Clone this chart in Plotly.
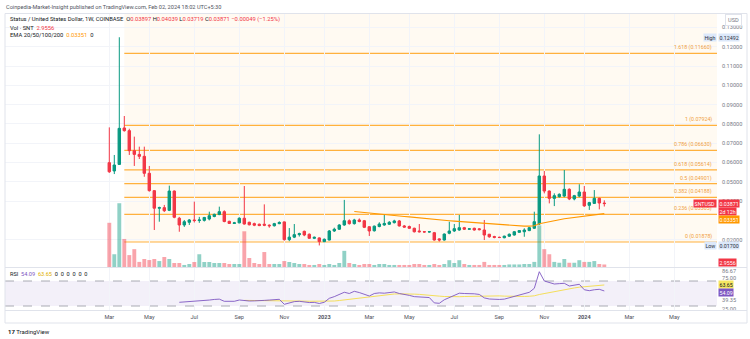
import plotly.graph_objects as go
import pandas as pd

# ---------------- data ----------------
dates = pd.date_range("2022-03-07", periods=100, freq="7D")

opens = [0.0599, 0.0556, 0.0590, 0.0779, 0.0765, 0.0661, 0.0642, 0.0632, 0.0544, 0.0454,
         0.0363, 0.0366, 0.0352, 0.0452, 0.0311, 0.0276, 0.0290, 0.0302, 0.0299, 0.0300,
         0.0307, 0.0320, 0.0330, 0.0345, 0.0295, 0.0284, 0.0287, 0.0311, 0.0290, 0.0283,
         0.0280, 0.0280, 0.0275, 0.0272, 0.0283, 0.0292, 0.0200, 0.0213, 0.0226, 0.0243,
         0.0228, 0.0207, 0.0209, 0.0190, 0.0198, 0.0245, 0.0254, 0.0276, 0.0298, 0.0283,
         0.0302, 0.0298, 0.0267, 0.0246, 0.0268, 0.0276, 0.0280, 0.0288, 0.0297, 0.0271,
         0.0268, 0.0259, 0.0245, 0.0241, 0.0240, 0.0236, 0.0204, 0.0198, 0.0233, 0.0245,
         0.0250, 0.0262, 0.0254, 0.0259, 0.0256, 0.0250, 0.0228, 0.0216, 0.0212, 0.0210,
         0.0218, 0.0224, 0.0238, 0.0241, 0.0247, 0.0259, 0.0281, 0.0530, 0.0452, 0.0414,
         0.0423, 0.0426, 0.0461, 0.0411, 0.0426, 0.0447, 0.0378, 0.0388, 0.0414, 0.03897]
highs = [0.0782, 0.0639, 0.12492, 0.0841, 0.0775, 0.0734, 0.0682, 0.0682, 0.0582, 0.0457,
         0.0371, 0.0380, 0.0480, 0.0455, 0.0318, 0.0302, 0.0307, 0.0397, 0.0318, 0.0318,
         0.0345, 0.0335, 0.0371, 0.0352, 0.0298, 0.0292, 0.0316, 0.0478, 0.0293, 0.0288,
         0.0283, 0.0383, 0.0279, 0.0287, 0.0295, 0.0294, 0.0260, 0.0281, 0.0236, 0.0247,
         0.0232, 0.0216, 0.0212, 0.0206, 0.0250, 0.0262, 0.0280, 0.0406, 0.0305, 0.0308,
         0.0310, 0.0302, 0.0270, 0.0273, 0.0290, 0.0333, 0.0296, 0.0303, 0.0302, 0.0276,
         0.0273, 0.0262, 0.0281, 0.0244, 0.0245, 0.0240, 0.0207, 0.0232, 0.0293, 0.0281,
         0.0328, 0.0266, 0.0260, 0.0262, 0.0260, 0.0302, 0.0230, 0.0220, 0.0216, 0.0221,
         0.0232, 0.0245, 0.0250, 0.0259, 0.0266, 0.0345, 0.0746, 0.0556, 0.0455, 0.0440,
         0.0440, 0.0561, 0.0466, 0.0432, 0.0487, 0.0478, 0.0396, 0.0457, 0.0418, 0.04039]
lows = [0.0546, 0.0540, 0.0587, 0.0760, 0.0639, 0.0582, 0.0618, 0.0526, 0.0449, 0.0250,
        0.0293, 0.0343, 0.0348, 0.0311, 0.0241, 0.0266, 0.0276, 0.0289, 0.0287, 0.0294,
        0.0300, 0.0316, 0.0327, 0.0290, 0.0282, 0.0281, 0.0285, 0.0278, 0.0274, 0.0270,
        0.0270, 0.0270, 0.0262, 0.0268, 0.0280, 0.0195, 0.0192, 0.0208, 0.0216, 0.0218,
        0.0204, 0.0203, 0.0170, 0.0186, 0.0196, 0.0240, 0.0250, 0.0272, 0.0278, 0.0278,
        0.0290, 0.0260, 0.0219, 0.0242, 0.0264, 0.0272, 0.0276, 0.0284, 0.0268, 0.0262,
        0.0255, 0.0237, 0.0237, 0.0236, 0.0236, 0.0195, 0.0190, 0.0195, 0.0228, 0.0240,
        0.0246, 0.0250, 0.0250, 0.0247, 0.0248, 0.0198, 0.0210, 0.0207, 0.0208, 0.0207,
        0.0214, 0.0221, 0.0235, 0.0215, 0.0244, 0.0255, 0.0276, 0.0440, 0.0388, 0.0374,
        0.0418, 0.0420, 0.0405, 0.0404, 0.0420, 0.0370, 0.0354, 0.0385, 0.0357, 0.03719]
closes = [0.0552, 0.0587, 0.0777, 0.0765, 0.0661, 0.0642, 0.0632, 0.0544, 0.0454, 0.0363,
          0.0366, 0.0350, 0.0452, 0.0316, 0.0276, 0.0293, 0.0302, 0.0299, 0.0302, 0.0315,
          0.0324, 0.0331, 0.0345, 0.0294, 0.0284, 0.0287, 0.0311, 0.0281, 0.0277, 0.0275,
          0.0273, 0.0275, 0.0272, 0.0283, 0.0289, 0.0200, 0.0213, 0.0226, 0.0231, 0.0224,
          0.0207, 0.0212, 0.0190, 0.0202, 0.0245, 0.0254, 0.0276, 0.0298, 0.0283, 0.0302,
          0.0294, 0.0264, 0.0245, 0.0270, 0.0281, 0.0284, 0.0290, 0.0297, 0.0271, 0.0265,
          0.0259, 0.0241, 0.0241, 0.0240, 0.0241, 0.0198, 0.0198, 0.0229, 0.0245, 0.0257,
          0.0262, 0.0254, 0.0256, 0.0250, 0.0252, 0.0224, 0.0215, 0.0212, 0.0211, 0.0218,
          0.0228, 0.0241, 0.0247, 0.0250, 0.0262, 0.0293, 0.0530, 0.0452, 0.0414, 0.0428,
          0.0435, 0.0461, 0.0411, 0.0428, 0.0447, 0.0375, 0.0392, 0.0414, 0.0390, 0.03871]
volumes = [52, 15, 75, 33, 14, 21, 6, 9.4, 8.2, 9.4,
           7, 11.8, 9.4, 4.7, 4.7, 2.4, 3.5, 5.9, 15, 5.9,
           5.9, 4.7, 4.7, 4.7, 3.5, 3.5, 3.5, 42, 10.6, 4.7,
           3.5, 17.6, 3.5, 3.5, 3.5, 7, 5.9, 4.7, 3.5, 3.5,
           2.4, 2.4, 3.5, 2.4, 3.5, 2.4, 4.7, 19, 4.7, 3.5,
           2.4, 3.5, 3.5, 2.4, 3.5, 3.5, 2.4, 2.4, 2.4, 2.4,
           2.4, 3.5, 3.5, 2.4, 2.4, 3.5, 2.4, 3.5, 8, 4.7,
           8, 3.5, 2.4, 2.4, 2.4, 6, 2.4, 2.4, 2.4, 2.4,
           3, 3, 3, 3.5, 3.5, 6, 49, 21, 15, 6,
           5, 9.4, 5, 5, 8, 6, 6, 7, 3.5, 2.9556]
ema50 = [0.0346, 0.0343, 0.0341, 0.0338, 0.0336, 0.0333, 0.0331, 0.0328, 0.0326, 0.0323,
         0.0320, 0.0318, 0.0315, 0.0312, 0.0309, 0.0306, 0.0304, 0.0302, 0.0300, 0.0298,
         0.0296, 0.0294, 0.0292, 0.0290, 0.0288, 0.0286, 0.0284, 0.0281, 0.0279, 0.0277,
         0.0275, 0.0273, 0.0272, 0.0271, 0.0270, 0.0270, 0.0272, 0.0282, 0.0288, 0.0293,
         0.0298, 0.0303, 0.0308, 0.0311, 0.0314, 0.0318, 0.0321, 0.0324, 0.0327, 0.0330,
         0.03351]
rsi = [35.9, 36.5, 37.0, 37.0, 37.3, 38.5, 39.5, 40.5, 41.0, 37.5,
       37.0, 37.5, 39.6, 38.5, 38.0, 38.2, 38.0, 39.0, 39.5, 40.5,
       40.7, 32.7, 35.0, 37.0, 37.5, 36.5, 35.5, 35.8, 34.0, 36.0,
       42.3, 45.0, 48.5, 52.0, 50.0, 53.5, 51.5, 48.5, 46.0, 50.0,
       51.0, 50.5, 51.5, 52.5, 50.0, 49.0, 47.0, 45.0, 44.5, 44.0,
       43.5, 35.0, 34.3, 40.0, 43.5, 47.0, 50.5, 50.0, 50.2, 49.5,
       48.5, 43.0, 41.2, 40.5, 40.5, 41.0, 43.0, 45.0, 47.0, 49.0,
       51.9, 58.3, 84.9, 70.0, 67.3, 65.2, 65.8, 66.3, 62.0, 63.5,
       64.7, 56.0, 54.5, 56.0, 56.7, 54.09]
rsi_ma = [39.0, 39.0, 39.0, 38.9, 38.9, 38.9, 38.8, 38.8, 38.5, 38.2,
          38.0, 37.9, 37.8, 37.6, 37.5, 37.3, 37.2, 37.5, 38.0, 38.8,
          39.8, 40.6, 41.6, 42.6, 43.4, 44.2, 45.2, 46.3, 47.3, 48.3,
          49.2, 49.4, 49.6, 49.4, 49.0, 48.6, 48.2, 47.8, 46.8, 45.8,
          45.2, 44.8, 44.7, 44.9, 45.2, 45.5, 45.6, 45.8, 46.1, 46.3,
          46.4, 46.2, 45.8, 45.4, 45.2, 45.2, 45.3, 45.6, 46.3, 48.4,
          50.0, 51.8, 53.6, 55.3, 56.9, 57.9, 58.9, 60.1, 60.9, 61.8,
          62.6, 63.2, 63.65]

fib_ratios = [0, 0.236, 0.382, 0.5, 0.618, 0.786, 1, 1.618]
fib_values = [0.01878, 0.03305, 0.04188, 0.04901, 0.05614, 0.06630, 0.07924, 0.11660]
fib_start = "2022-03-28"

price_ticks = [0.02, 0.04, 0.05, 0.06, 0.07, 0.08, 0.09, 0.10, 0.11, 0.12, 0.13]
rsi_ticks = [25.0, 39.35, 75.0, 86.67]
month_ticks = ["2022-03-07", "2022-05-02", "2022-07-04", "2022-09-05", "2022-11-07",
               "2023-01-02", "2023-03-06", "2023-05-01", "2023-07-03", "2023-09-04",
               "2023-11-06", "2024-01-01", "2024-03-04", "2024-05-06"]
month_text = ["Mar", "May", "Jul", "Sep", "Nov", "<b>2023</b>", "Mar", "May", "Jul", "Sep",
              "Nov", "<b>2024</b>", "Mar", "May"]

last_price = 0.03871
ema_last = 0.03351
vol_last = 2.9556
rsi_last = 54.09
rsi_ma_last = 63.65
high_val = 0.12492
low_val = 0.01700

# ---------------- styling ----------------
GREEN = "#089981"
RED = "#F23645"
ORANGE = "#FF9800"
FIB = "rgba(255,152,0,0.75)"
GRID = "#F2F4F9"
TXT = "#787B86"
FONT = "Roboto"

W, H = 750, 339
L, R, T, B = 5, 33, 14, 29
plot_w = W - L - R
plot_h = H - T - B
first_px = 109.3
px_per_day = 5 / 7
start = pd.Timestamp("2022-03-07")
x0 = start - pd.Timedelta(days=(first_px - L) / px_per_day)
x1 = start + pd.Timedelta(days=(W - R - first_px) / px_per_day)

price_bottom_px = 267
rsi_top_px = 268
price_dom = [(H - B - price_bottom_px) / plot_h, 1]
rsi_dom = [0, (H - B - rsi_top_px) / plot_h]

def py(px):  # pixel y -> paper y
    return (H - B - px) / plot_h

def pxp(px):  # pixel x -> paper x
    return (px - L) / plot_w

vol_colors = ["rgba(8,153,129,0.45)" if c >= o else "rgba(242,54,69,0.45)"
              for o, c in zip(opens, closes)]

fig = go.Figure()
fig.add_trace(go.Bar(x=dates, y=volumes, marker=dict(color=vol_colors, line=dict(width=0)),
                     width=7 * 24 * 3600 * 1000 * 0.78, xaxis="x", yaxis="y2",
                     showlegend=False, hoverinfo="skip"))
fig.add_trace(go.Candlestick(x=dates, open=opens, high=highs, low=lows, close=closes,
                             increasing=dict(line=dict(color=GREEN, width=1), fillcolor=GREEN),
                             decreasing=dict(line=dict(color=RED, width=1), fillcolor=RED),
                             whiskerwidth=0, xaxis="x", yaxis="y", showlegend=False))
fig.add_trace(go.Scatter(x=dates[49:], y=ema50, mode="lines",
                         line=dict(color=ORANGE, width=1.1), xaxis="x", yaxis="y",
                         showlegend=False))
fig.add_trace(go.Scatter(x=dates[27:], y=rsi_ma, mode="lines",
                         line=dict(color="#F5DF5B", width=1), xaxis="x2", yaxis="y3",
                         showlegend=False))
fig.add_trace(go.Scatter(x=dates[14:], y=rsi, mode="lines",
                         line=dict(color="#7E57C2", width=0.9), xaxis="x2", yaxis="y3",
                         showlegend=False))

shapes = []
# fib background and lines
shapes.append(dict(type="rect", xref="x", yref="y", x0=fib_start, x1=x1,
                   y0=fib_values[0], y1=0.13698, fillcolor="rgba(255,152,0,0.05)",
                   line=dict(width=0), layer="below"))
for v in fib_values:
    shapes.append(dict(type="line", xref="x", yref="y", x0=fib_start, x1=x1, y0=v, y1=v,
                       line=dict(color=FIB, width=1.2), layer="below"))
# RSI band
shapes.append(dict(type="rect", xref="paper", yref="y3", x0=0, x1=1, y0=30, y1=70,
                   fillcolor="rgba(126,87,194,0.09)", line=dict(width=0), layer="below"))
for lv in (70, 30):
    shapes.append(dict(type="line", xref="paper", yref="y3", x0=0, x1=1, y0=lv, y1=lv,
                       line=dict(color="#9598A1", width=0.8, dash="dash"), layer="below"))
# pane separators and frame
shapes.append(dict(type="line", xref="paper", yref="paper", x0=pxp(L), x1=pxp(W - 3),
                   y0=py(267.5), y1=py(267.5), line=dict(color="#E0E3EB", width=1)))
shapes.append(dict(type="line", xref="paper", yref="paper", x0=pxp(L), x1=pxp(W - 3),
                   y0=py(310.5), y1=py(310.5), line=dict(color="#E0E3EB", width=1)))
shapes.append(dict(type="rect", xref="paper", yref="paper", x0=pxp(L), x1=pxp(W - 3),
                   y0=py(323), y1=py(13.5), line=dict(color="#E0E3EB", width=1),
                   fillcolor="rgba(0,0,0,0)"))

ann = []
def label(text, x, y, xref, yref, bg, fg, xanchor="left", yshift=0, xshift=0, size=5.3):
    ann.append(dict(text=text, x=x, y=y, xref=xref, yref=yref, showarrow=False,
                    xanchor=xanchor, yanchor="middle", bgcolor=bg,
                    font=dict(size=size, color=fg, family=FONT),
                    borderpad=0.5, yshift=yshift, xshift=xshift))

# fib labels
for r_, v in zip(fib_ratios, fib_values):
    ann.append(dict(text=f"{r_:g} ({v:.5f})", x=1, xref="paper", y=v, yref="y",
                    xanchor="right", yanchor="bottom", xshift=-3, yshift=0, showarrow=False,
                    font=dict(size=5.3, color="#F0A040", family=FONT)))

# right-axis labels
label(f"{last_price:.5f}", 1, last_price, "paper", "y", RED, "white", xshift=1, yshift=0)
label("SNTUSD", 1, last_price, "paper", "y", RED, "white", xanchor="right", yshift=0)
label("2d 12h", 1, last_price, "paper", "y", RED, "white", xshift=1, yshift=-7.5)
label(f"{ema_last:.5f}", 1, ema_last, "paper", "y", ORANGE, "white", xshift=1, yshift=-5.5)
label(f"{high_val:.5f}", 1, high_val, "paper", "y", "#DCE8FA", "#2A2E39", xshift=1)
label("High", 1, high_val, "paper", "y", "#DCE8FA", "#2A2E39", xanchor="right")
label(f"{low_val:.5f}", 1, low_val, "paper", "y", "#DCE8FA", "#2A2E39", xshift=1)
label("Low", 1, low_val, "paper", "y", "#DCE8FA", "#2A2E39", xanchor="right")
label(f"{vol_last:.4f}", 1, vol_last, "paper", "y2", RED, "white", xshift=1, yshift=2)
label(f"{rsi_ma_last:.2f}", 1, rsi_ma_last, "paper", "y3", "#F5E663", "#131722", xshift=1, yshift=0)
label(f"{rsi_last:.2f}", 1, rsi_last, "paper", "y3", "#7E57C2", "white", xshift=1, yshift=-2)
ann.append(dict(text="USD", x=pxp(733), y=py(20), xref="paper", yref="paper", showarrow=False,
                xanchor="center", yanchor="middle", bgcolor="white", bordercolor="#E0E3EB",
                borderwidth=1, borderpad=2, font=dict(size=5.6, color=TXT, family=FONT)))

# header texts
ann.append(dict(text="Coinpedia-Market-Insight published on TradingView.com, Feb 02, 2024 18:02 UTC+5:30",
                x=pxp(4), y=py(7), xref="paper", yref="paper", xanchor="left", yanchor="middle",
                showarrow=False, font=dict(size=5.6, color="#50535E", family=FONT)))
ann.append(dict(text=("<span style='color:#131722'>Status / United States Dollar, 1W, COINBASE</span>"
                      f"  O<span style='color:{RED}'>{opens[-1]:.5f}</span>"
                      f" H<span style='color:{RED}'>{highs[-1]:.5f}</span>"
                      f" L<span style='color:{RED}'>{lows[-1]:.5f}</span>"
                      f" C<span style='color:{RED}'>{closes[-1]:.5f}</span>"
                      f" <span style='color:{RED}'>−0.00049 (−1.25%)</span>"),
                x=pxp(8), y=py(19), xref="paper", yref="paper", xanchor="left", yanchor="middle",
                showarrow=False, font=dict(size=5.8, color="#131722", family=FONT)))
ann.append(dict(text=f"Vol · SNT  <span style='color:{RED}'>{vol_last:.4f}</span>",
                x=pxp(8), y=py(27.5), xref="paper", yref="paper", xanchor="left", yanchor="middle",
                showarrow=False, font=dict(size=5.8, color="#131722", family=FONT)))
ann.append(dict(text=f"EMA 20/50/100/200  <span style='color:{ORANGE}'>{ema_last:.5f}</span>  0",
                x=pxp(8), y=py(35.5), xref="paper", yref="paper", xanchor="left", yanchor="middle",
                showarrow=False, font=dict(size=5.8, color="#131722", family=FONT)))
ann.append(dict(text=(f"RSI  <span style='color:#7E57C2'>{rsi_last:.2f}</span>  "
                      f"<span style='color:#E0B000'>{rsi_ma_last:.2f}</span>  0  0  0  0  0  0"),
                x=pxp(8), y=py(273.5), xref="paper", yref="paper", xanchor="left", yanchor="middle",
                showarrow=False, font=dict(size=5.6, color="#131722", family=FONT)))
ann.append(dict(text="<b>17</b> TradingView", x=pxp(6), y=py(331), xref="paper", yref="paper",
                xanchor="left", yanchor="middle", showarrow=False,
                font=dict(size=6, color="#131722", family=FONT)))

fig.update_layout(
    width=W, height=H, margin=dict(l=L, r=R, t=T, b=B),
    paper_bgcolor="white", plot_bgcolor="white",
    font=dict(family=FONT, size=5.6, color=TXT),
    showlegend=False, shapes=shapes, annotations=ann,
    xaxis=dict(domain=[0, 1], anchor="y", range=[x0, x1], type="date",
               tickvals=month_ticks, showticklabels=False, showgrid=True, gridcolor=GRID,
               gridwidth=1, zeroline=False, rangeslider=dict(visible=False), showline=False,
               ticks=""),
    xaxis2=dict(domain=[0, 1], anchor="y3", matches="x", type="date",
                tickvals=month_ticks, ticktext=month_text, showgrid=True, gridcolor=GRID,
                zeroline=False, showline=False, ticks="", ticklabelstandoff=2,
                tickfont=dict(size=5.6, color="#50535E", family=FONT)),
    yaxis=dict(domain=price_dom, range=[0.00582, 0.13698], side="right",
               tickvals=price_ticks, ticktext=[f"{v:.5f}" for v in price_ticks],
               showgrid=True, gridcolor=GRID, zeroline=False, showline=False, ticks="",
               ticklabelstandoff=4, tickfont=dict(size=5.6, color=TXT, family=FONT)),
    yaxis2=dict(domain=price_dom, overlaying="y", range=[0, 297.6], visible=False),
    yaxis3=dict(domain=rsi_dom, range=[23.6, 90.8], side="right", anchor="x2",
                tickvals=rsi_ticks, ticktext=[f"{v:.2f}" for v in rsi_ticks],
                showgrid=False, zeroline=False, showline=False, ticks="",
                ticklabelstandoff=4, tickfont=dict(size=5.6, color=TXT, family=FONT)),
)

fig.write_html("out.html")
